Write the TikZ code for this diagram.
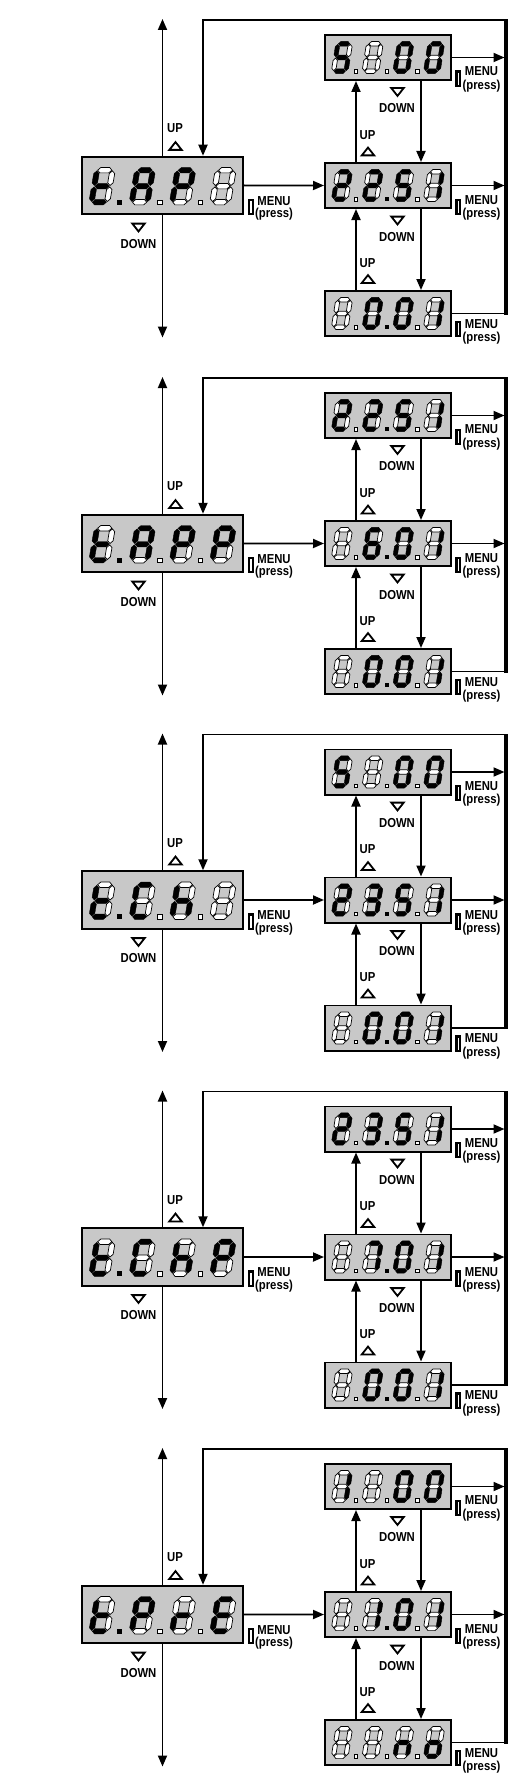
\documentclass[tikz,border=0pt]{standalone}
\usepackage{fontspec}
\setmainfont{Liberation Sans}
\usepackage{graphicx}
\usetikzlibrary{arrows.meta,calc}
\definecolor{boxgray}{RGB}{200,200,200}
\makeatletter
\newcommand\chk[1]{\edef\dg@tmp{\noexpand\in@{#1}{\dglit}}\dg@tmp}
\newcommand\seg[2]{\chk{#1}\ifin@\filldraw[fill=black,draw=black,line width=0.4pt] #2;\else\filldraw[fill=white,draw=black,line width=0.7pt] #2;\fi}
\newcommand\dg[5]{%
 \def\dglit{#5}%
 \begin{scope}[shift={(#1,#2)},xscale=#3,yscale=#4]
 \begin{scope}[xslant=0.17]
 \seg{a}{(-7.1,-16) -- (-4.4,-18.7) -- (4.4,-18.7) -- (7.1,-16) -- (4.4,-13.3) -- (-4.4,-13.3) -- cycle}
 \seg{g}{(-7.1,0) -- (-4.4,-2.7) -- (4.4,-2.7) -- (7.1,0) -- (4.4,2.7) -- (-4.4,2.7) -- cycle}
 \seg{d}{(-7.1,16) -- (-4.4,13.3) -- (4.4,13.3) -- (7.1,16) -- (4.4,18.7) -- (-4.4,18.7) -- cycle}
 \seg{b}{(7.8,-15.3) -- (10.5,-12.6) -- (10.5,-3.4) -- (7.8,-0.7) -- (5.1,-3.4) -- (5.1,-12.6) -- cycle}
 \seg{f}{(-7.8,-15.3) -- (-5.1,-12.6) -- (-5.1,-3.4) -- (-7.8,-0.7) -- (-10.5,-3.4) -- (-10.5,-12.6) -- cycle}
 \seg{c}{(7.8,0.7) -- (10.5,3.4) -- (10.5,12.6) -- (7.8,15.3) -- (5.1,12.6) -- (5.1,3.4) -- cycle}
 \seg{e}{(-7.8,0.7) -- (-5.1,3.4) -- (-5.1,12.6) -- (-7.8,15.3) -- (-10.5,12.6) -- (-10.5,3.4) -- cycle}
 \end{scope}
 \chk{p}\ifin@\fill[black] (15,13.5) rectangle (20,18.5);\fi
 \chk{q}\ifin@\filldraw[fill=white,draw=black,line width=0.7pt] (15.4,14) rectangle (19.6,18.2);\fi
 \end{scope}}
\makeatother
\def\sgt{d,e,f,g}
\def\sgA{a,b,c,e,f,g}
\def\sgP{a,b,e,f,g}
\def\sgC{a,d,e,f}
\def\sgh{c,e,f,g}
\def\sgr{e,g}
\def\sgE{a,d,e,f,g}
\def\sgn{c,e,g}
\def\sgo{c,d,e,g}
\def\sgzero{a,b,c,d,e,f}
\def\sgone{b,c}
\def\sgtwo{a,b,d,e,g}
\def\sgthree{a,b,c,d,g}
\def\sgfive{a,c,d,f,g}
\def\sgsix{a,c,d,e,f,g}
\def\sgseven{a,b,c}
\newcommand\dispL[5]{%
 \begin{scope}[shift={(#1)}]
  \dg{-60.45}{0.8}{1}{1}{#2}
  \dg{-20.15}{0.8}{1}{1}{#3}
  \dg{20.15}{0.8}{1}{1}{#4}
  \dg{60.45}{0.8}{1}{1}{#5}
 \end{scope}}
\newcommand\dispR[5]{%
 \begin{scope}[shift={(#1)}]
  \dg{-46.05}{0}{0.8}{0.86}{#2}
  \dg{-15.35}{0}{0.8}{0.86}{#3}
  \dg{15.35}{0}{0.8}{0.86}{#4}
  \dg{46.05}{0}{0.8}{0.86}{#5}
 \end{scope}}
\newcommand\lb[1]{\scalebox{0.87}[1]{#1}}
\newcommand\triup[2]{\draw[tri] (#1-6.2,#2+3.9) -- (#1+6.2,#2+3.9) -- (#1,#2-3.9) -- cycle;}
\newcommand\tridn[2]{\draw[tri] (#1-6.2,#2-3.9) -- (#1+6.2,#2-3.9) -- (#1,#2+3.9) -- cycle;}
\newcommand\menulbl[6]{%
 \draw[btn] (#2-1.9,#3-7.1) rectangle (#2+1.9,#3+7.1);
 \node[lbl] (m#1) at (#4,#5) {\lb{MENU}};
 \node[lbl] (p#1) at (#4,#6) {\lb{(press)}};}
\newcommand\panel[2]{%
\begin{scope}[shift={(0,#2)}]
 \node[lbox] (L#1) at (162.5,185.4) {};
 \node[rbox] (T#1) at (388,57.5) {};
 \node[rbox] (M#1) at (388,185.5) {};
 \node[rbox] (B#1) at (388,313.5) {};
 \coordinate (VT#1) at (162.5,19);
 \coordinate (VB#1) at (162.5,337.5);
 \coordinate (RB#1) at (506,313.5);
 \coordinate (RT#1) at (506,20);
 \draw[arr] (L#1.north) -- (VT#1);
 \draw[arr] (L#1.south) -- (VB#1);
 \draw[arr] (L#1.east) -- (M#1.west);
 \draw[arr,shorten >=1.5pt] (T#1.east) -- (T#1.east -| RT#1);
 \draw[arr,shorten >=1.5pt] (M#1.east) -- (M#1.east -| RT#1);
 \draw[conn] (B#1.east) -- (RB#1);
 \draw[arr] (RT#1) -| ([xshift=40.5pt]L#1.north);
 \draw[thickline] (RB#1) -- (RT#1);
 \draw[arr] ([xshift=-32pt]M#1.north) -- ([xshift=-32pt]T#1.south);
 \draw[arr] ([xshift=33pt]T#1.south) -- ([xshift=33pt]M#1.north);
 \draw[arr] ([xshift=-32pt]B#1.north) -- ([xshift=-32pt]M#1.south);
 \draw[arr] ([xshift=33pt]M#1.south) -- ([xshift=33pt]B#1.north);
 \node[lbl] (uL#1) at (175,128.5) {\lb{UP}};
 \triup{175.5}{146}
 \tridn{138.5}{227.5}
 \node[lbl] (dL#1) at (138.5,244) {\lb{DOWN}};
 \tridn{397.5}{92}
 \node[lbl] (dA#1) at (397,108.5) {\lb{DOWN}};
 \node[lbl] (uA#1) at (367.5,135) {\lb{UP}};
 \triup{368}{151.5}
 \tridn{397.5}{220.5}
 \node[lbl] (dB#1) at (397,237) {\lb{DOWN}};
 \node[lbl] (uB#1) at (367.5,263) {\lb{UP}};
 \triup{368}{279}
 \menulbl{L#1}{251.2}{207}{274}{201}{214.5}
 \menulbl{T#1}{458.4}{78.7}{481.5}{71.5}{85.8}
 \menulbl{M#1}{458.4}{207}{481.5}{200.5}{214.3}
 \menulbl{B#1}{458.4}{329}{481.5}{324}{338.5}
\end{scope}}
\begin{document}
\begin{tikzpicture}[x=1pt,y=-1pt,
 conn/.style={line width=1.8pt,line join=miter},
 arr/.style={conn,-{Triangle[length=11pt,width=9pt]}},
 thickline/.style={line width=3.3pt,shorten <=-1pt,shorten >=-1pt},
 lbox/.style={draw,line width=1.8pt,fill=boxgray,minimum width=161.5pt,minimum height=57.5pt,inner sep=0pt},
 rbox/.style={draw,line width=1.8pt,fill=boxgray,minimum width=126.2pt,minimum height=45.2pt,inner sep=0pt},
 lbl/.style={font=\bfseries\fontsize{13}{14}\selectfont,inner sep=0pt},
 tri/.style={line width=1.8pt,fill=white,line join=miter},
 btn/.style={line width=2.2pt,fill=white}]
\fill[white] (0,0) rectangle (514,1790);
\useasboundingbox (0,0) rectangle (514,1790);
\panel{1}{0}
\panel{2}{358}
\panel{3}{714.5}
\panel{4}{1071.5}
\panel{5}{1429}
\dispL{L1}{\sgt,p}{\sgA,q}{\sgP,q}{}
\dispR{T1}{\sgfive,q}{q}{\sgzero,q}{\sgzero}
\dispR{M1}{\sgtwo,q}{\sgtwo,p}{\sgfive,q}{\sgone}
\dispR{B1}{q}{\sgzero,p}{\sgzero,q}{\sgone}
\dispL{L2}{\sgt,p}{\sgA,q}{\sgP,q}{\sgP}
\dispR{T2}{\sgtwo,q}{\sgtwo,p}{\sgfive,q}{\sgone}
\dispR{M2}{q}{\sgsix,p}{\sgzero,q}{\sgone}
\dispR{B2}{q}{\sgzero,p}{\sgzero,q}{\sgone}
\dispL{L3}{\sgt,p}{\sgC,q}{\sgh,q}{}
\dispR{T3}{\sgfive,q}{q}{\sgzero,q}{\sgzero}
\dispR{M3}{\sgtwo,q}{\sgthree,p}{\sgfive,q}{\sgone}
\dispR{B3}{q}{\sgzero,p}{\sgzero,q}{\sgone}
\dispL{L4}{\sgt,p}{\sgC,q}{\sgh,q}{\sgP}
\dispR{T4}{\sgtwo,q}{\sgthree,p}{\sgfive,q}{\sgone}
\dispR{M4}{q}{\sgseven,p}{\sgzero,q}{\sgone}
\dispR{B4}{q}{\sgzero,p}{\sgzero,q}{\sgone}
\dispL{L5}{\sgt,p}{\sgP,q}{\sgr,q}{\sgE}
\dispR{T5}{\sgone,q}{q}{\sgzero,q}{\sgzero}
\dispR{M5}{q}{\sgone,p}{\sgzero,q}{\sgone}
\dispR{B5}{q}{q}{\sgn,q}{\sgo}
\end{tikzpicture}
\end{document}
